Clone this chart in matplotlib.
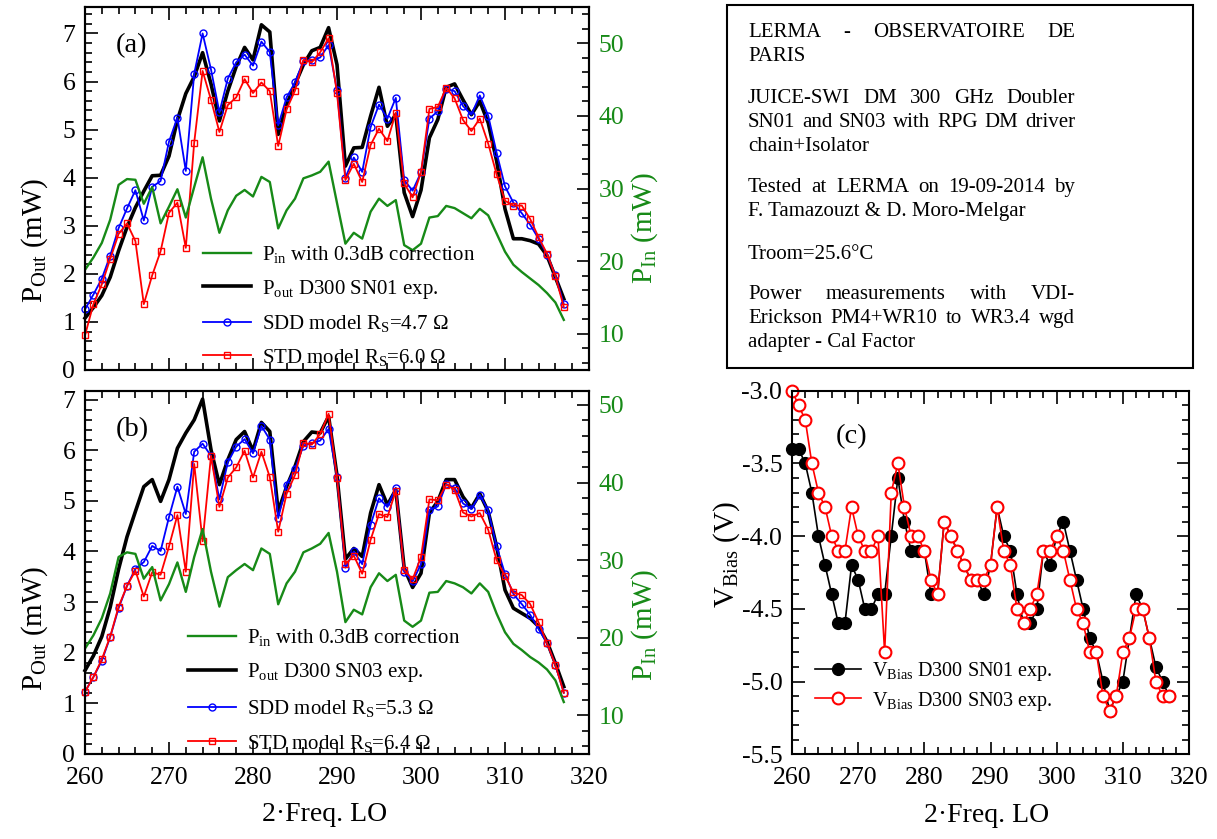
import numpy as np
import matplotlib
matplotlib.use("Agg")
import matplotlib.pyplot as plt
from matplotlib.ticker import MultipleLocator, FormatStrFormatter
from matplotlib.lines import Line2D
from matplotlib.patches import Rectangle

plt.rcParams['font.family'] = ['Liberation Serif', 'DejaVu Serif']
plt.rcParams['mathtext.fontset'] = 'custom'
plt.rcParams['mathtext.rm'] = 'Liberation Serif'
plt.rcParams['mathtext.it'] = 'Liberation Serif:italic'
plt.rcParams['mathtext.bf'] = 'Liberation Serif:bold'
plt.rcParams['axes.unicode_minus'] = False

GREEN = '#178a17'

# doubled LO frequency, GHz (1 GHz steps)
freq = np.arange(260, 318)

# (a) D300 SN01
pout_sn01 = [1.08, 1.30, 1.55, 1.93, 2.48, 2.97, 3.38, 3.72, 4.04, 4.05,
             4.45, 5.20, 5.75, 6.10, 6.60, 5.95, 5.18, 5.80, 6.31, 6.71,
             6.45, 7.18, 7.03, 4.90, 5.52, 5.94, 6.35, 6.64, 6.71, 7.12,
             6.35, 4.24, 4.62, 4.63, 5.28, 5.88, 5.07, 5.31, 3.69, 3.19,
             3.74, 4.83, 5.21, 5.88, 5.95, 5.62, 5.31, 5.59, 5.14, 4.35,
             3.35, 2.73, 2.73, 2.69, 2.62, 2.38, 1.93, 1.48]
sdd_sn01 = [1.26, 1.57, 1.90, 2.38, 2.95, 3.36, 3.74, 3.11, 3.81, 3.93,
            4.75, 5.25, 4.14, 6.16, 7.00, 6.25, 5.36, 6.06, 6.40, 6.56,
            6.33, 6.83, 6.61, 5.09, 5.67, 5.98, 6.43, 6.44, 6.50, 6.76,
            5.82, 4.00, 4.42, 4.12, 5.05, 5.52, 5.23, 5.66, 3.95, 3.73,
            4.11, 5.23, 5.38, 5.85, 5.80, 5.49, 5.31, 5.71, 5.29, 4.52,
            3.82, 3.48, 3.26, 3.02, 2.73, 2.40, 1.97, 1.37]
std_sn01 = [0.72, 1.37, 1.78, 2.31, 2.83, 3.05, 2.68, 1.37, 1.97, 2.47,
            3.27, 3.48, 2.54, 4.73, 6.22, 5.62, 4.95, 5.51, 5.67, 6.05,
            5.76, 5.98, 5.80, 4.66, 5.42, 5.81, 6.45, 6.40, 6.61, 6.90,
            5.76, 3.95, 4.29, 3.91, 4.68, 5.02, 4.76, 5.35, 3.88, 3.59,
            4.11, 5.43, 5.47, 5.87, 5.65, 5.20, 4.97, 5.23, 4.71, 4.07,
            3.52, 3.42, 3.42, 3.14, 2.76, 2.42, 1.95, 1.31]
pin_sn01 = [18.8, 20.5, 22.5, 25.7, 30.5, 31.3, 31.2, 27.9, 30.2, 25.2,
            27.5, 29.9, 26.0, 30.2, 34.3, 28.6, 23.9, 27.0, 29.0, 29.8,
            28.9, 31.6, 30.9, 24.5, 27.0, 28.6, 31.4, 31.8, 32.3, 33.7,
            28.0, 22.4, 23.9, 23.1, 26.8, 28.6, 27.6, 28.4, 22.2, 21.5,
            22.4, 26.0, 26.2, 27.6, 27.3, 26.6, 25.9, 27.2, 26.3, 23.8,
            21.3, 19.5, 18.5, 17.6, 16.7, 15.6, 14.3, 11.9]

# (b) D300 SN03
pout_sn03 = [1.65, 1.94, 2.32, 2.90, 3.65, 4.29, 4.79, 5.28, 5.42, 4.99,
             5.42, 6.04, 6.34, 6.60, 7.01, 6.01, 5.32, 5.81, 6.21, 6.37,
             5.99, 6.55, 6.37, 4.79, 5.28, 5.68, 6.17, 6.36, 6.34, 6.67,
             5.50, 3.85, 4.06, 3.90, 4.76, 5.32, 4.92, 5.22, 3.67, 3.29,
             3.57, 4.76, 4.99, 5.42, 5.42, 5.08, 4.86, 5.14, 4.79, 4.10,
             3.24, 2.88, 2.78, 2.68, 2.52, 2.22, 1.79, 1.33]
sdd_sn03 = [1.23, 1.52, 1.84, 2.31, 2.88, 3.32, 3.66, 3.79, 4.11, 4.01,
            4.68, 5.28, 4.74, 5.97, 6.13, 5.89, 5.03, 5.76, 6.07, 6.22,
            5.94, 6.48, 6.21, 4.66, 5.32, 5.63, 6.09, 6.14, 6.19, 6.42,
            5.47, 3.68, 4.00, 3.75, 4.53, 5.05, 4.88, 5.26, 3.60, 3.41,
            3.75, 4.82, 4.89, 5.33, 5.26, 4.95, 4.84, 5.12, 4.81, 4.10,
            3.56, 3.16, 2.96, 2.75, 2.47, 2.19, 1.76, 1.21]
std_sn03 = [1.23, 1.52, 1.87, 2.32, 2.91, 3.32, 3.62, 3.11, 3.59, 3.54,
            4.10, 4.72, 3.60, 5.73, 4.20, 5.89, 4.88, 5.46, 5.66, 5.99,
            5.46, 5.97, 5.47, 4.39, 5.14, 5.51, 6.15, 6.11, 6.32, 6.72,
            5.46, 3.75, 3.92, 3.56, 4.23, 4.74, 4.68, 5.20, 3.64, 3.45,
            3.89, 5.03, 5.01, 5.32, 5.22, 4.77, 4.69, 4.76, 4.43, 3.83,
            3.52, 3.19, 3.14, 2.96, 2.60, 2.19, 1.76, 1.21]
pin_sn03 = [18.6, 20.3, 22.5, 25.7, 30.4, 31.0, 30.8, 27.6, 29.1, 24.8,
            26.9, 29.7, 25.9, 30.4, 34.0, 28.5, 24.0, 27.8, 28.7, 29.5,
            28.7, 31.5, 30.8, 24.3, 27.0, 28.5, 31.0, 31.5, 32.1, 33.5,
            28.5, 22.0, 23.6, 23.0, 26.5, 28.3, 27.3, 28.1, 22.2, 21.4,
            22.2, 25.8, 25.9, 27.3, 27.0, 26.5, 25.7, 27.0, 25.9, 23.1,
            20.7, 19.2, 18.4, 17.5, 16.8, 15.9, 14.5, 11.7]

# (c) bias voltages
vbias_sn01 = [-3.4, -3.4, -3.5, -3.7, -4.0, -4.2, -4.4, -4.6, -4.6, -4.2,
              -4.3, -4.5, -4.5, -4.4, -4.4, -4.0, -3.6, -3.9, -4.1, -4.1,
              -4.1, -4.4, -4.4, -3.9, -4.0, -4.1, -4.2, -4.3, -4.3, -4.4,
              -4.2, -3.8, -4.0, -4.1, -4.4, -4.6, -4.6, -4.5, -4.1, -4.2,
              -4.0, -3.9, -4.1, -4.3, -4.5, -4.7, -4.8, -5.0, -5.2, -5.1,
              -5.0, -4.7, -4.4, -4.5, -4.7, -4.9, -5.0, -5.1]
vbias_sn03 = [-3.0, -3.1, -3.2, -3.5, -3.7, -3.8, -4.0, -4.1, -4.1, -3.8,
              -4.0, -4.1, -4.1, -4.0, -4.8, -3.7, -3.5, -3.8, -4.0, -4.0,
              -4.1, -4.3, -4.4, -3.9, -4.0, -4.1, -4.2, -4.3, -4.3, -4.3,
              -4.2, -3.8, -4.1, -4.2, -4.5, -4.6, -4.5, -4.4, -4.1, -4.1,
              -4.0, -4.1, -4.3, -4.5, -4.6, -4.8, -4.8, -5.1, -5.2, -5.1,
              -4.8, -4.7, -4.5, -4.5, -4.7, -5.0, -5.1, -5.1]

info_lines = [
    (30, "LERMA - OBSERVATOIRE DE", True),
    (54, "PARIS", False),
    (96, "JUICE-SWI DM 300 GHz Doubler", True),
    (120, "SN01 and SN03 with RPG DM driver", True),
    (144, "chain+Isolator", False),
    (185, "Tested at LERMA on 19-09-2014 by", True),
    (209, "F. Tamazouzt & D. Moro-Melgar", False),
    (252, "Troom=25.6°C", False),
    (292, "Power measurements with VDI-", True),
    (316, "Erickson PM4+WR10 to WR3.4 wgd", True),
    (340, "adapter - Cal Factor", False),
]

W, H = 1217, 839
fig = plt.figure(figsize=(W / 100, H / 100), dpi=100)


def ticks(ax, xmaj, xmin, ymaj, ymin, right=True, top=True):
    ax.xaxis.set_major_locator(MultipleLocator(xmaj))
    ax.xaxis.set_minor_locator(MultipleLocator(xmin))
    ax.yaxis.set_major_locator(MultipleLocator(ymaj))
    ax.yaxis.set_minor_locator(MultipleLocator(ymin))
    ax.tick_params(which='both', direction='in', top=top, right=right,
                   width=1.2, labelsize=18.5)
    ax.tick_params(which='major', length=9, pad=7)
    ax.tick_params(axis='x', which='major', pad=9)
    ax.tick_params(which='minor', length=5)
    for s in ax.spines.values():
        s.set_linewidth(1.5)


def power_panel(rect, pout, sdd, std, pin, tag, sn, rs_sdd, rs_std,
                ytop, pin_top, leg_xy, leg_space):
    ax = fig.add_axes(rect)
    ax.plot(freq, pout, color='k', lw=2.6, clip_on=False)
    ax.plot(freq, sdd, color='#0000ff', lw=1.3, marker='o', ms=5,
            mfc='none', mew=1.0, clip_on=False)
    ax.plot(freq, std, color='#ff0000', lw=1.3, marker='s', ms=5,
            mfc='none', mew=1.0, clip_on=False)
    ax.set_xlim(260, 320)
    ax.set_ylim(0, ytop)
    ticks(ax, 10, 2, 1, 0.2, right=False)

    ax2 = ax.twinx()
    ax2.plot(freq, pin, color=GREEN, lw=1.7)
    ax2.set_ylim(5, pin_top)
    ax2.yaxis.set_major_locator(MultipleLocator(10))
    ax2.yaxis.set_minor_locator(MultipleLocator(2))
    ax2.tick_params(which='both', direction='in', width=1.2,
                    labelsize=18.5, labelcolor=GREEN)
    ax2.tick_params(which='major', length=9, pad=7)
    ax2.tick_params(which='minor', length=5)
    for s in ax2.spines.values():
        s.set_linewidth(1.5)

    ax.text(0.093, 0.895, tag, transform=ax.transAxes, fontsize=20.5,
            ha='center', va='center')

    handles = [
        Line2D([], [], color=GREEN, lw=1.7),
        Line2D([], [], color='k', lw=2.6),
        Line2D([], [], color='#0000ff', lw=1.3, marker='o', ms=5,
               mfc='none', mew=1.0),
        Line2D([], [], color='#ff0000', lw=1.3, marker='s', ms=5,
               mfc='none', mew=1.0),
    ]
    labels = [
        r"P$_{\mathrm{in}}$ with 0.3dB correction",
        r"P$_{\mathrm{out}}$ D300 " + sn + " exp.",
        r"SDD model R$_{\mathrm{S}}$=" + rs_sdd + " Ω",
        r"STD model R$_{\mathrm{S}}$=" + rs_std + " Ω",
    ]
    ax2.legend(handles, labels, loc='upper left', bbox_to_anchor=leg_xy,
               frameon=False, fontsize=15, handlelength=2.3,
               handletextpad=0.55, labelspacing=leg_space, borderpad=0,
               borderaxespad=0, markerfirst=True)
    return ax, ax2


ax_a, ax_a2 = power_panel([85 / W, 1 - 370 / H, 504 / W, 363 / H],
                          pout_sn01, sdd_sn01, std_sn01, pin_sn01,
                          "(a)", "SN01", "4.7", "6.0", 7.55, 55,
                          (0.234, 0.347), 0.6)
ax_a.tick_params(labelbottom=False)
ax_a.text(-0.099, 0.358, r"P$_{\mathrm{Out}}$ (mW)", transform=ax_a.transAxes,
          rotation=90, fontsize=21, ha='center', va='center')
ax_a.text(1.111, 0.39, r"P$_{\mathrm{In}}$ (mW)", transform=ax_a.transAxes,
          rotation=90, fontsize=21, ha='center', va='center', color=GREEN)

ax_b, ax_b2 = power_panel([85 / W, 1 - 754 / H, 504 / W, 363 / H],
                          pout_sn03, sdd_sn03, std_sn03, pin_sn03,
                          "(b)", "SN03", "5.3", "6.4", 7.17, 51.8,
                          (0.204, 0.35), 0.65)
ax_b.text(-0.099, 0.347, r"P$_{\mathrm{Out}}$ (mW)", transform=ax_b.transAxes,
          rotation=90, fontsize=21, ha='center', va='center')
ax_b.text(1.111, 0.355, r"P$_{\mathrm{In}}$ (mW)", transform=ax_b.transAxes,
          rotation=90, fontsize=21, ha='center', va='center', color=GREEN)
ax_b.text(0.476, -0.168, "2·Freq. LO", transform=ax_b.transAxes,
          fontsize=20, ha='center', va='center')

# (c) bias voltage
ax_c = fig.add_axes([792 / W, 1 - 754.3 / H, 397 / W, 363.6 / H])
ax_c.plot(freq, vbias_sn01, color='k', lw=1.2, marker='o', ms=8.5,
          mfc='k', mec='k', clip_on=False,
          label=r"V$_{\mathrm{Bias}}$ D300 SN01 exp.")
ax_c.plot(freq, vbias_sn03, color='#ff0000', lw=1.2, marker='o', ms=8.5,
          mfc='white', mec='#ff0000', mew=1.5, clip_on=False,
          label=r"V$_{\mathrm{Bias}}$ D300 SN03 exp.")
ax_c.set_xlim(260, 320)
ax_c.set_ylim(-5.5, -3.0)
ticks(ax_c, 10, 2, 0.5, 0.1)
ax_c.yaxis.set_major_formatter(FormatStrFormatter('%.1f'))
ax_c.text(0.151, 0.874, "(c)", transform=ax_c.transAxes, fontsize=20.5,
          ha='center', va='center')
ax_c.text(-0.164, 0.548, r"V$_{\mathrm{Bias}}$ (V)", transform=ax_c.transAxes,
          rotation=90, fontsize=21, ha='center', va='center')
ax_c.text(0.491, -0.167, "2·Freq. LO", transform=ax_c.transAxes,
          fontsize=20, ha='center', va='center')
ax_c.legend(loc='upper left', bbox_to_anchor=(0.058, 0.258), frameon=False,
            fontsize=14.5, handlelength=2.3, handletextpad=0.55,
            labelspacing=0.3, borderpad=0, borderaxespad=0)

# info box
fig.add_artist(Rectangle((727 / W, 1 - 368 / H), 466 / W, 363 / H,
                         transform=fig.transFigure, fill=False,
                         lw=1.5, ec='k'))
renderer = fig.canvas.get_renderer()
x0, x1 = 748, 1075
for ypix, line, just in info_lines:
    yb = 1 - (ypix + 7) / H
    if not just:
        fig.text(x0 / W, yb, line, fontsize=15, va='baseline', ha='left')
        continue
    words = line.split()
    items = [fig.text(0, yb, w, fontsize=15, va='baseline', ha='left')
             for w in words]
    widths = [t.get_window_extent(renderer).width for t in items]
    gap = ((x1 - x0) - sum(widths)) / (len(words) - 1)
    x = x0
    for t, w in zip(items, widths):
        t.set_x(x / W)
        x += w + gap

fig.savefig("out.png", dpi=100)
